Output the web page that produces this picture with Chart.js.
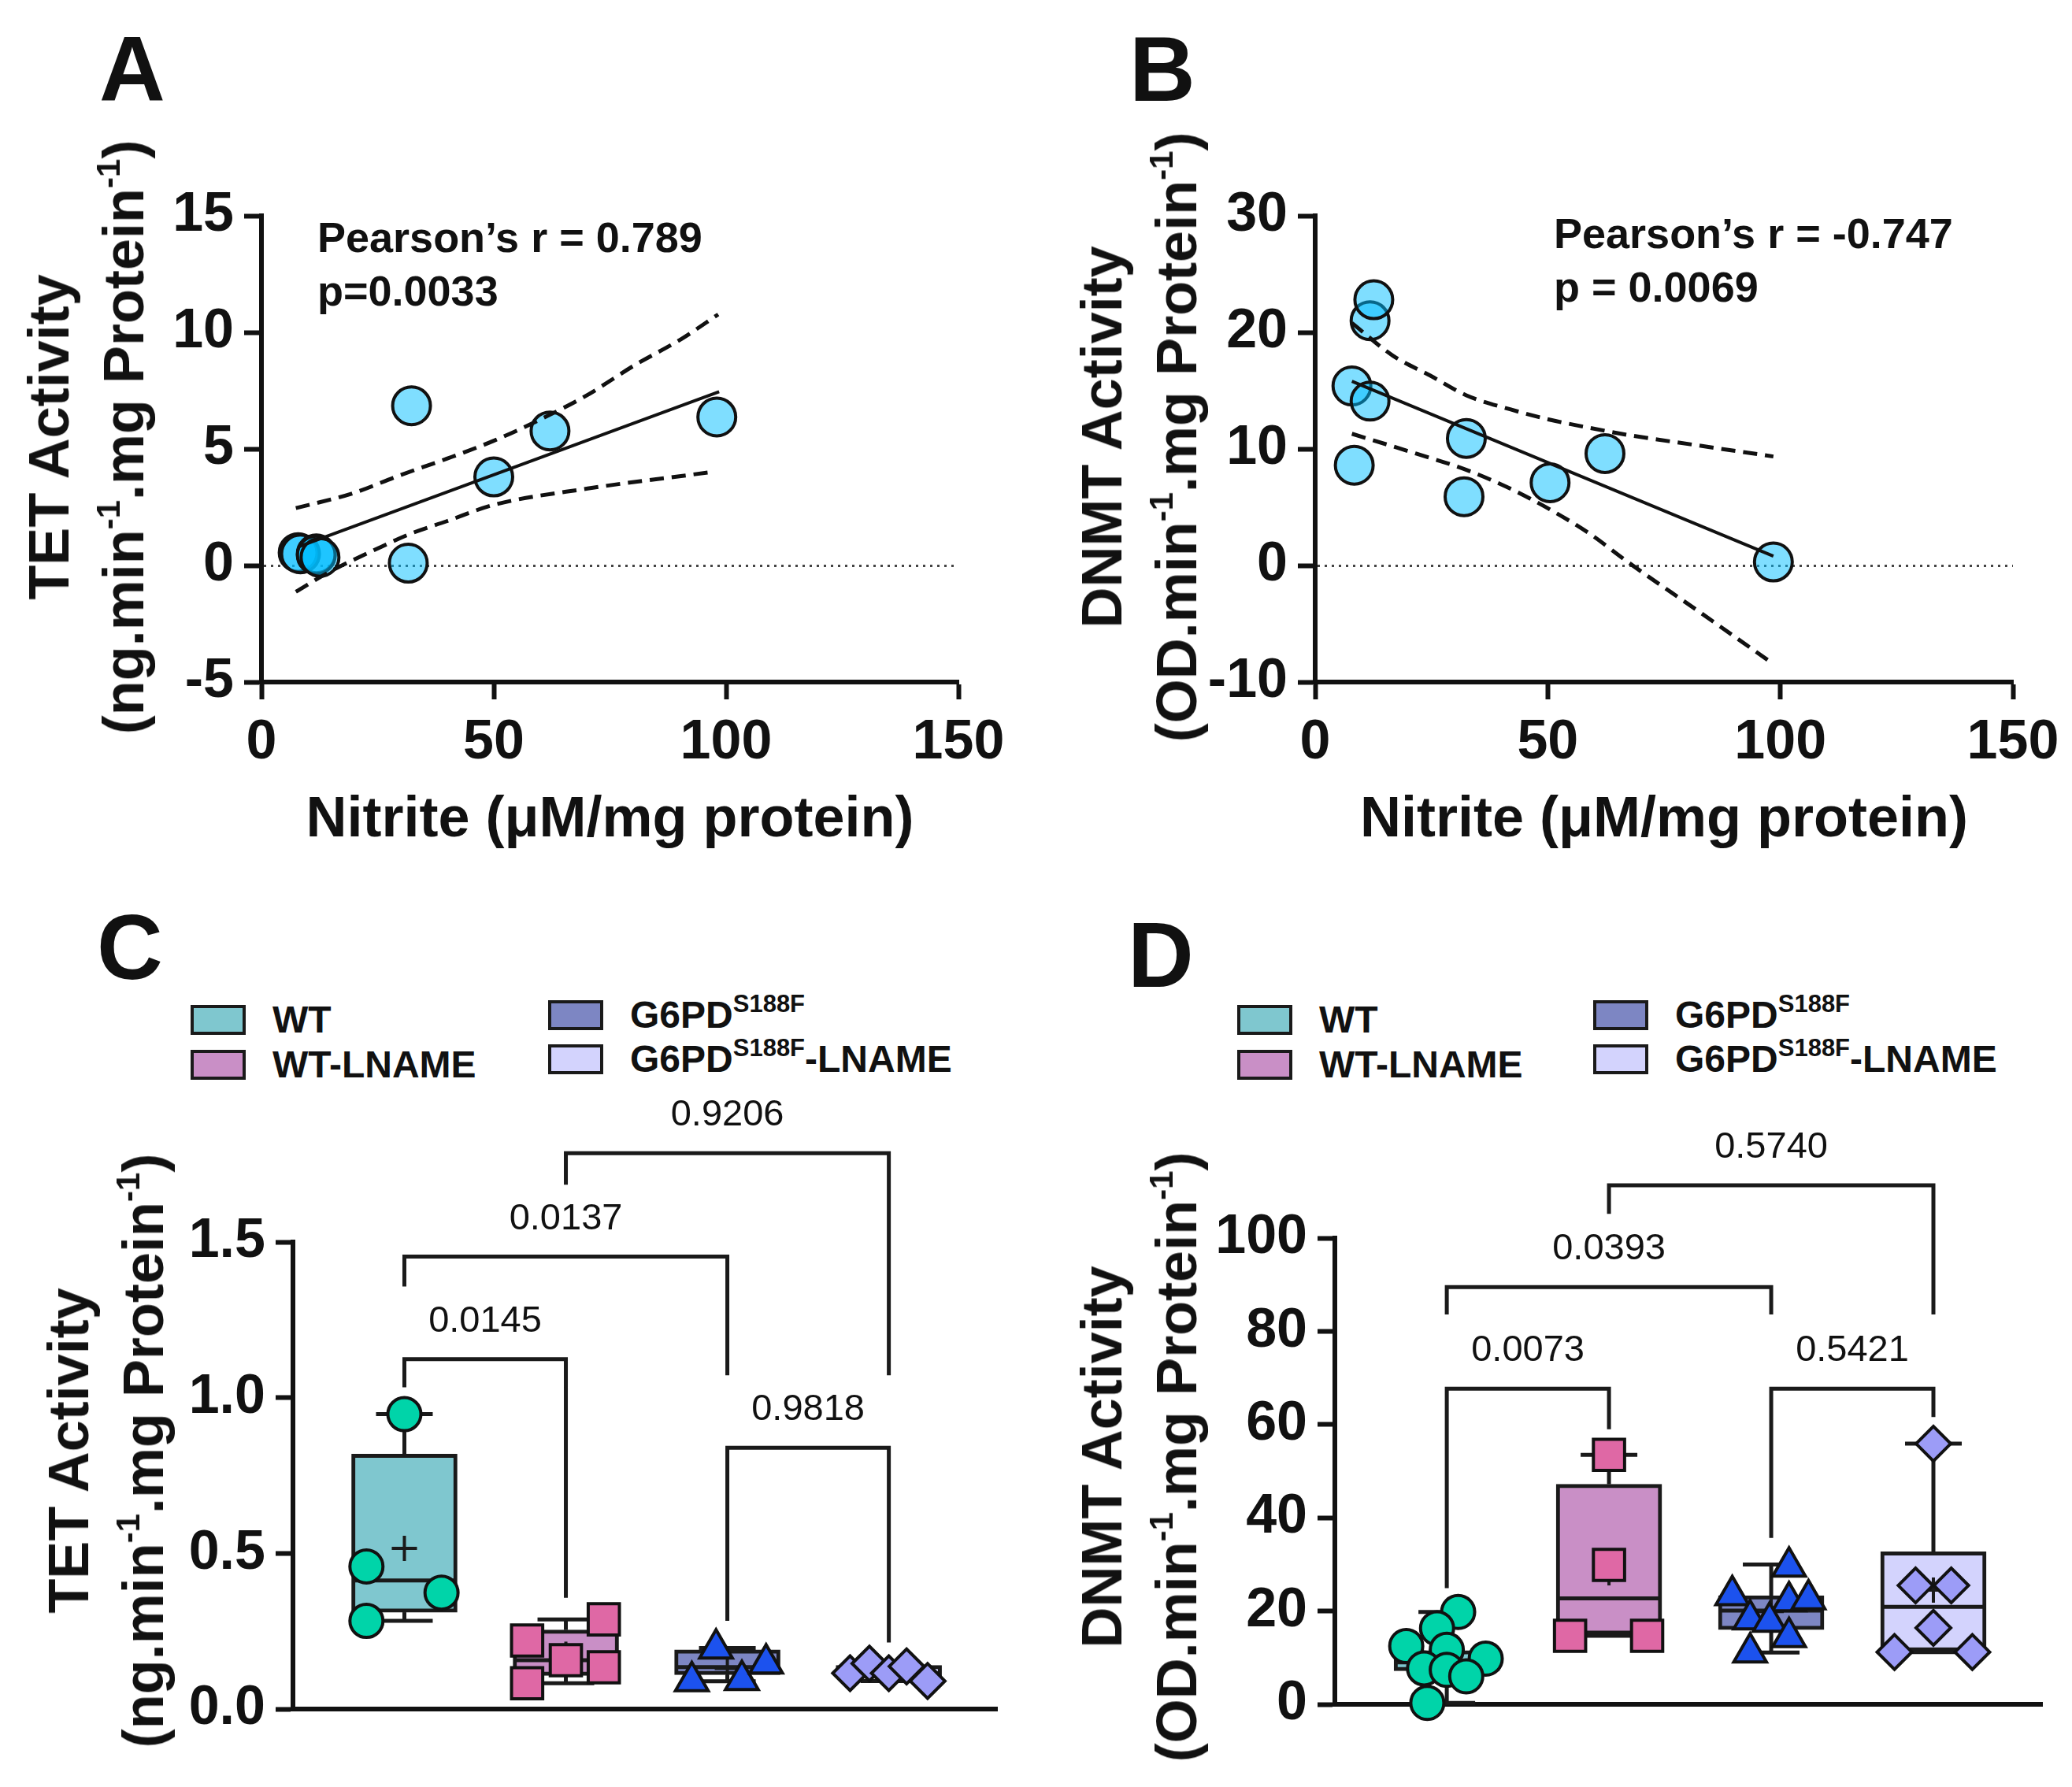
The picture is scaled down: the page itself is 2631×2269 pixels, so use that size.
<!DOCTYPE html>
<html>
<head>
<meta charset="utf-8">
<script src="https://cdn.jsdelivr.net/npm/chart.js@4.4.1/dist/chart.umd.min.js"></script>
<style>
  body { margin: 0; background: #fff; }
  #page { position: relative; width: 2631px; height: 2269px; overflow: hidden;
          font-family: "Liberation Sans", Arial, sans-serif; color: #111; }
  canvas { position: absolute; }
  .letter { position: absolute; font-weight: bold; font-size: 116px; line-height: 1; }
  .stat { position: absolute; font-weight: bold; font-size: 54px; line-height: 68px; white-space: nowrap; }
  .ytitle { position: absolute; font-weight: bold; font-size: 72px; line-height: 95px; text-align: center;
            white-space: nowrap; transform: translate(-50%, -50%) rotate(-90deg); }
  .ytitle sup { font-size: 42px; vertical-align: 30px; line-height: 0; }
  .leg { position: absolute; display: flex; align-items: center; font-weight: bold; font-size: 48px;
         line-height: 50px; white-space: nowrap; }
  .leg span sup { font-size: 31px; vertical-align: 20px; line-height: 0; }
  .sw { width: 62px; height: 30px; border: 4px solid #1a1a1a; margin-right: 34px; flex: none; }
</style>
</head>
<body>
<div id="page">
  <canvas id="chartA" width="1300" height="960" style="left:0px;top:150px"></canvas>
  <canvas id="chartB" width="1301" height="960" style="left:1330px;top:150px"></canvas>
  <canvas id="chartC" width="1300" height="889" style="left:0px;top:1380px"></canvas>
  <canvas id="chartD" width="1331" height="889" style="left:1300px;top:1380px"></canvas>

  <div class="letter" style="left:126px;top:30px">A</div>
  <div class="letter" style="left:1434px;top:30px">B</div>
  <div class="letter" style="left:123px;top:1145px">C</div>
  <div class="letter" style="left:1432px;top:1155px">D</div>

  <div class="stat" style="left:403px;top:267px">Pearson’s r = 0.789<br>p=0.0033</div>
  <div class="stat" style="left:1973px;top:262px">Pearson’s r = -0.747<br>p = 0.0069</div>

  <div class="ytitle" style="left:110px;top:555px">TET Activity<br>(ng.min<sup>-1</sup>.mg Protein<sup>-1</sup>)</div>
  <div class="ytitle" style="left:1447px;top:555px">DNMT Activity<br>(OD.min<sup>-1</sup>.mg Protein<sup>-1</sup>)</div>
  <div class="ytitle" style="left:135px;top:1842px">TET Activity<br>(ng.min<sup>-1</sup>.mg Protein<sup>-1</sup>)</div>
  <div class="ytitle" style="left:1447px;top:1850px">DNMT Activity<br>(OD.min<sup>-1</sup>.mg Protein<sup>-1</sup>)</div>

  <div class="leg" style="left:242px;top:1270px"><div class="sw" style="background:#7fc7cf"></div><span>WT</span></div>
  <div class="leg" style="left:242px;top:1327px"><div class="sw" style="background:#c98fc6"></div><span>WT-LNAME</span></div>
  <div class="leg" style="left:696px;top:1264px"><div class="sw" style="background:#7d86c3"></div><span>G6PD<sup>S188F</sup></span></div>
  <div class="leg" style="left:696px;top:1320px"><div class="sw" style="background:#d3d3fd"></div><span>G6PD<sup>S188F</sup>-LNAME</span></div>

  <div class="leg" style="left:1571px;top:1270px"><div class="sw" style="background:#7fc7cf"></div><span>WT</span></div>
  <div class="leg" style="left:1571px;top:1327px"><div class="sw" style="background:#c98fc6"></div><span>WT-LNAME</span></div>
  <div class="leg" style="left:2023px;top:1264px"><div class="sw" style="background:#7d86c3"></div><span>G6PD<sup>S188F</sup></span></div>
  <div class="leg" style="left:2023px;top:1320px"><div class="sw" style="background:#d3d3fd"></div><span>G6PD<sup>S188F</sup>-LNAME</span></div>
</div>

<script>
// ---- panel A: TET vs nitrite ----
const tetNitrite = [7.9, 8.4, 11.8, 11.8, 12.6, 31.6, 32.3, 50.0, 62.1, 98.0];
const tetActivity = [0.55, 0.5, 0.5, 0.45, 0.35, 0.1, 6.85, 3.8, 5.77, 6.37];
const tetFitX = [7.9, 98.5];
const tetFitY = [0.8, 7.45];
const tetUpperX = [7.4, 19.7, 29.8, 39.9, 50, 60.1, 70.2, 80.3, 90.4, 98.3];
const tetUpperY = [2.46, 3.1, 3.87, 4.58, 5.35, 6.27, 7.32, 8.59, 9.72, 10.77];
const tetLowerX = [7.4, 14.6, 24.7, 31.8, 39.9, 50, 70.2, 97];
const tetLowerY = [-1.13, -0.28, 0.7, 1.34, 1.9, 2.6, 3.3, 4.01];

// ---- panel B: DNMT vs nitrite ----
const dnmtNitrite = [7.9, 8.4, 11.8, 11.8, 12.6, 32.0, 32.5, 50.5, 62.3, 98.5];
const dnmtActivity = [15.4, 8.6, 21.0, 14.1, 22.8, 5.9, 10.9, 7.1, 9.6, 0.3];
const dnmtFitX = [7.9, 98.5];
const dnmtFitY = [15.8, 0.8];
const dnmtUpperX = [7.9, 16.7, 24.7, 32.5, 41.9, 50.5, 59.1, 67.2, 82.3, 98.5];
const dnmtUpperY = [20.8, 18.0, 16.3, 14.6, 13.4, 12.5, 11.8, 11.2, 10.3, 9.35];
const dnmtLowerX = [7.9, 21.7, 32.5, 41.9, 50.5, 59.1, 67.2, 82.3, 98.5];
const dnmtLowerY = [11.3, 9.6, 8.2, 6.6, 4.8, 2.7, 0.3, -3.9, -8.45];

// ---- groups (C, D) ----
const groups = ["WT", "WT-LNAME", "G6PD S188F", "G6PD S188F-LNAME"];
const groupX = [1, 2, 3, 4];

// panel C box stats
const tetMin = [0.283, 0.083, 0.089, 0.090];
const tetQ1 = [0.311, 0.108, 0.11, 0.10];
const tetMedian = [0.413, 0.157, 0.135, 0.115];
const tetQ3 = [0.819, 0.254, 0.19, 0.14];
const tetMax = [0.947, 0.288, 0.196, 0.146];
const tetMean = [0.516, 0.176, 0.13, 0.12];
// panel C points + horizontal spread
const tetWT = [0.947, 0.458, 0.374, 0.283];
const tetWTJit = [0, -0.235, 0.23, -0.235];
const tetWTL = [0.220, 0.083, 0.157, 0.288, 0.134];
const tetWTLJit = [-0.24, -0.24, 0, 0.235, 0.235];
const tetG6 = [0.194, 0.089, 0.093, 0.146];
const tetG6Jit = [-0.07, -0.22, 0.09, 0.24];
const tetG6L = [0.115, 0.146, 0.115, 0.137, 0.090];
const tetG6LJit = [-0.24, -0.12, 0, 0.11, 0.24];
// panel C comparisons
const tetPairs = [[1, 2], [1, 3], [3, 4], [2, 4]];
const tetPLabels = ["0.0145", "0.0137", "0.9818", "0.9206"];
const tetBracketTop = [1.124, 1.453, 0.839, 1.785];
const tetBracketEnds = [[1.033, 0.357], [1.357, 1.072], [0.283, 0.214], [1.684, 1.072]];

// panel D box stats
const dnmtMin = [0.3, 14.7, 11.1, 11.2];
const dnmtQ1 = [7.2, 15.0, 16.0, 11.4];
const dnmtMedian = [9.0, 22.7, 20.1, 20.9];
const dnmtQ3 = [11.5, 47.2, 23.3, 32.7];
const dnmtMax = [19.8, 53.5, 30.0, 55.9];
const dnmtMean = [10.1, 28.2, 19.9, 24.5];
// panel D points + horizontal spread
const dnmtWT = [19.8, 16.3, 12.5, 11.7, 9.8, 7.7, 7.4, 6.0, 0.3];
const dnmtWTJit = [0.07, -0.06, -0.25, 0, 0.24, -0.14, 0, 0.12, -0.12];
const dnmtWTL = [53.5, 29.9, 14.7, 14.7];
const dnmtWTLJit = [0, 0, -0.24, 0.235];
const dnmtG6 = [29.5, 23.4, 22.1, 22.5, 18.2, 17.7, 14.4, 11.1];
const dnmtG6Jit = [0.11, -0.24, 0.11, 0.23, -0.13, -0.01, 0.11, -0.13];
const dnmtG6L = [55.9, 25.5, 25.5, 16.4, 11.2, 11.2];
const dnmtG6LJit = [0, -0.11, 0.11, 0, -0.24, 0.24];
// panel D comparisons
const dnmtPairs = [[1, 2], [1, 3], [3, 4], [2, 4]];
const dnmtPLabels = ["0.0073", "0.0393", "0.5421", "0.5740"];
const dnmtBracketTop = [67.7, 89.5, 67.7, 111.3];
const dnmtBracketEnds = [[24.9, 59.0], [83.6, 83.6], [35.7, 61.6], [105.2, 83.6]];

// ---- styling ----
const INK = '#111';
const FONT = 'Liberation Sans';
const tickFont = { family: FONT, size: 70, weight: 'bold' };
const titleFont = { family: FONT, size: 72, weight: 'bold' };
const boxColors = ['#7fc7cf', '#c98fc6', '#7d86c3', '#d3d3fd'];
const dotColors = ['#00d4a9', '#df68a5', '#1c52ee', '#9c9cf7'];

Chart.defaults.font.family = FONT;

function pts(xs, ys) {
  return xs.map((x, i) => ({ x: x, y: ys[i] }));
}
function spread(g, ys, jit) {
  return ys.map((y, i) => ({ x: g + jit[i], y: y }));
}

function yAxis(min, max, step, width, zeroLine, fmt) {
  const ticks = { stepSize: step, font: tickFont, color: INK, padding: 13, autoSkip: false };
  if (fmt) ticks.callback = fmt;
  return {
    min: min, max: max,
    ticks: ticks,
    grid: {
      drawOnChartArea: zeroLine,
      color: c => (c.tick && c.tick.value === 0) ? '#444' : 'rgba(0,0,0,0)',
      lineWidth: 3, tickColor: INK, tickWidth: 6, tickLength: 22
    },
    border: { color: INK, width: 6, dash: zeroLine ? [3, 6] : [] },
    afterFit: s => { s.width = width; }
  };
}

function xAxisNitrite() {
  return {
    type: 'linear', min: 0, max: 150,
    ticks: { stepSize: 50, font: tickFont, color: INK, padding: 14, autoSkip: false, maxRotation: 0 },
    grid: { drawOnChartArea: false, color: INK, tickColor: INK, tickWidth: 6, tickLength: 22 },
    border: { color: INK, width: 6 },
    title: { display: true, text: 'Nitrite (μM/mg protein)', font: titleFont, color: INK, padding: 0 },
    afterFit: s => { s.height = 219; }
  };
}

function xAxisGroups() {
  return {
    type: 'linear', min: 0.31, max: 4.67, offset: false,
    ticks: { display: false },
    grid: { display: false, offset: false },
    border: { color: INK, width: 6 },
    afterFit: s => { s.height = 40; }
  };
}

function corrChart(id, xs, ys, fitX, fitY, upX, upY, loX, loY, yMin, yMax, yStep, yWidth, padRight) {
  const dashed = { showLine: true, borderColor: INK, borderWidth: 5, borderDash: [18, 10],
                   pointRadius: 0, cubicInterpolationMode: 'monotone', clip: false };
  return new Chart(document.getElementById(id), {
    type: 'scatter',
    data: {
      datasets: [
        { data: pts(fitX, fitY), showLine: true, borderColor: INK, borderWidth: 4, pointRadius: 0, clip: false },
        Object.assign({ data: pts(upX, upY) }, dashed),
        Object.assign({ data: pts(loX, loY) }, dashed),
        { data: pts(xs, ys), pointRadius: 24, pointBackgroundColor: 'rgba(0,190,255,0.5)',
          pointBorderColor: INK, pointBorderWidth: 4, clip: false }
      ]
    },
    options: {
      responsive: false, animation: false, events: [],
      layout: { padding: { left: 0, top: 124, right: padRight, bottom: 25 } },
      plugins: { legend: { display: false }, tooltip: { enabled: false } },
      scales: {
        x: xAxisNitrite(),
        y: yAxis(yMin, yMax, yStep, yWidth, true)
      }
    }
  });
}

function makeBoxPlugin(st) {
  return {
    id: 'boxExtras',
    afterDatasetDraw(chart, args) {
      if (args.index !== 0) return;
      const ctx = chart.ctx, xs = chart.scales.x, ys = chart.scales.y;
      const seg = (x1, y1, x2, y2) => { ctx.beginPath(); ctx.moveTo(x1, y1); ctx.lineTo(x2, y2); ctx.stroke(); };
      ctx.save();
      ctx.strokeStyle = '#1a1a1a';
      groupX.forEach((g, i) => {
        const cx = xs.getPixelForValue(g);
        const yMin = ys.getPixelForValue(st.min[i]);
        const yQ1 = ys.getPixelForValue(st.q1[i]);
        const yMed = ys.getPixelForValue(st.median[i]);
        const yQ3 = ys.getPixelForValue(st.q3[i]);
        const yMx = ys.getPixelForValue(st.max[i]);
        const yMean = ys.getPixelForValue(st.mean[i]);
        ctx.lineWidth = 5;
        seg(cx, yQ3, cx, yMx);
        seg(cx - 36, yMx, cx + 36, yMx);
        seg(cx, yQ1, cx, yMin);
        seg(cx - 36, yMin, cx + 36, yMin);
        seg(cx - 65, yMed, cx + 65, yMed);
        ctx.lineWidth = 4;
        seg(cx - 16, yMean, cx + 16, yMean);
        seg(cx, yMean - 16, cx, yMean + 16);
      });
      ctx.restore();
    }
  };
}

function makeBracketPlugin(pairs, tops, ends, labels) {
  return {
    id: 'brackets',
    afterDraw(chart) {
      const ctx = chart.ctx, xs = chart.scales.x, ys = chart.scales.y;
      ctx.save();
      ctx.strokeStyle = '#1a1a1a';
      ctx.lineWidth = 5;
      ctx.lineJoin = 'miter';
      ctx.fillStyle = INK;
      ctx.font = '47px "' + FONT + '"';
      ctx.textAlign = 'center';
      ctx.textBaseline = 'middle';
      pairs.forEach((p, i) => {
        const x1 = xs.getPixelForValue(p[0]);
        const x2 = xs.getPixelForValue(p[1]);
        const yt = ys.getPixelForValue(tops[i]);
        ctx.beginPath();
        ctx.moveTo(x1, ys.getPixelForValue(ends[i][0]));
        ctx.lineTo(x1, yt);
        ctx.lineTo(x2, yt);
        ctx.lineTo(x2, ys.getPixelForValue(ends[i][1]));
        ctx.stroke();
        ctx.fillText(labels[i], (x1 + x2) / 2, yt - 48);
      });
      ctx.restore();
    }
  };
}

function groupChart(id, st, sets, yMin, yMax, yStep, yWidth, padTop, padRight, padBottom, fmt, brackets) {
  const shapes = [
    { pointStyle: 'circle', pointRadius: 21 },
    { pointStyle: 'rect', pointRadius: 28 },
    { pointStyle: 'triangle', pointRadius: 24 },
    { pointStyle: 'rectRot', pointRadius: 22 }
  ];
  const datasets = [{
    type: 'bar',
    data: groupX.map((g, i) => ({ x: g, y: [st.q1[i], st.q3[i]] })),
    backgroundColor: boxColors, borderColor: '#1a1a1a', borderWidth: 5,
    borderSkipped: false, barThickness: 134, order: 10
  }];
  sets.forEach((s, i) => {
    datasets.push(Object.assign({
      type: 'scatter',
      data: spread(groupX[i], s[0], s[1]),
      pointBackgroundColor: dotColors[i], pointBorderColor: INK, pointBorderWidth: 4,
      clip: false, order: 1
    }, shapes[i]));
  });
  return new Chart(document.getElementById(id), {
    type: 'bar',
    data: { datasets: datasets },
    options: {
      responsive: false, animation: false, events: [],
      layout: { padding: { left: 0, top: padTop, right: padRight, bottom: padBottom } },
      plugins: { legend: { display: false }, tooltip: { enabled: false } },
      scales: {
        x: xAxisGroups(),
        y: yAxis(yMin, yMax, yStep, yWidth, false, fmt)
      }
    },
    plugins: [makeBoxPlugin(st), brackets]
  });
}

corrChart('chartA', tetNitrite, tetActivity, tetFitX, tetFitY, tetUpperX, tetUpperY, tetLowerX, tetLowerY,
          -5, 15, 5, 332, 83);
corrChart('chartB', dnmtNitrite, dnmtActivity, dnmtFitX, dnmtFitY, dnmtUpperX, dnmtUpperY, dnmtLowerX, dnmtLowerY,
          -10, 30, 10, 340, 75);

groupChart('chartC',
  { min: tetMin, q1: tetQ1, median: tetMedian, q3: tetQ3, max: tetMax, mean: tetMean },
  [[tetWT, tetWTJit], [tetWTL, tetWTLJit], [tetG6, tetG6Jit], [tetG6L, tetG6LJit]],
  0, 1.5, 0.5, 372, 197, 34, 59, v => v.toFixed(1),
  makeBracketPlugin(tetPairs, tetBracketTop, tetBracketEnds, tetPLabels));

groupChart('chartD',
  { min: dnmtMin, q1: dnmtQ1, median: dnmtMedian, q3: dnmtQ3, max: dnmtMax, mean: dnmtMean },
  [[dnmtWT, dnmtWTJit], [dnmtWTL, dnmtWTLJit], [dnmtG6, dnmtG6Jit], [dnmtG6L, dnmtG6LJit]],
  0, 100, 20, 395, 192, 38, 65, null,
  makeBracketPlugin(dnmtPairs, dnmtBracketTop, dnmtBracketEnds, dnmtPLabels));
</script>
</body>
</html>
